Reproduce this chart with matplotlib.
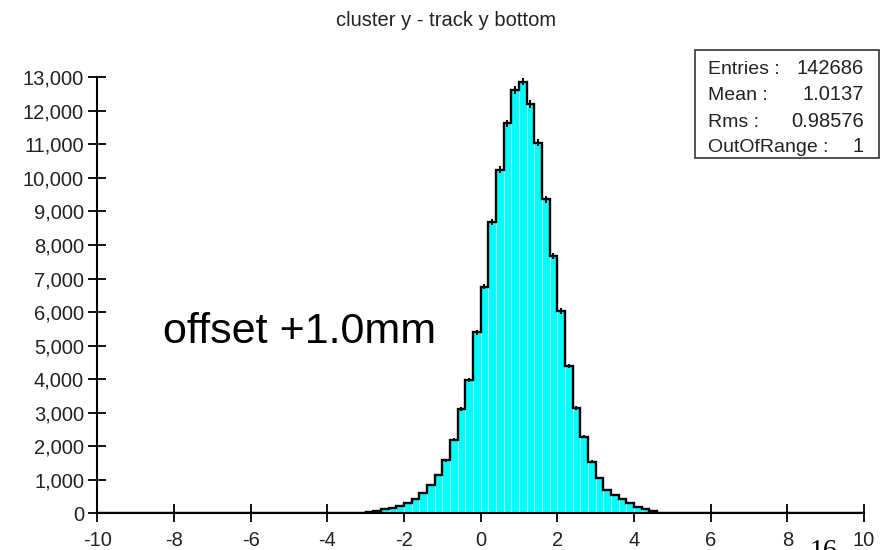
import numpy as np
import matplotlib
matplotlib.use("Agg")
import matplotlib.pyplot as plt
from matplotlib.patches import Rectangle
from matplotlib.ticker import FuncFormatter

# ---------------- data ----------------
title = "cluster y - track y bottom"
x_min, x_max, n_bins = -10.0, 10.0, 100
counts = [
    0, 0, 0, 0, 1, 0, 0, 0, 0, 0,            # -10.0 .. -8.2
    0, 0, 0, 0, 0, 0, 0, 0, 0, 1,            # -8.0 .. -6.2
    1, 0, 0, 1, 1, 0, 1, 0, 1, 0,            # -6.0 .. -4.2
    1, 2, 4, 8, 20, 40, 75, 120, 170, 230,   # -4.0 .. -2.2
    320, 440, 610, 850, 1150, 1580, 2200, 3100, 3970, 5400,      # -2.0 .. -0.2
    6760, 8690, 10240, 11630, 12620, 12870, 12210, 11050, 9360, 7670,  # 0.0 .. 1.8
    6030, 4400, 3140, 2280, 1540, 1050, 700, 560, 420, 310,      # 2.0 .. 3.8
    200, 130, 80, 15, 5, 3, 2, 1, 2, 1,      # 4.0 .. 5.8
    1, 2, 1, 0, 1, 2, 1, 1, 2, 0,            # 6.0 .. 7.8
    1, 0, 2, 1, 0, 1, 1, 2, 1, 0,            # 8.0 .. 9.8
]
x_ticks = [-10, -8, -6, -4, -2, 0, 2, 4, 6, 8, 10]
y_ticks = [0, 1000, 2000, 3000, 4000, 5000, 6000, 7000, 8000, 9000,
           10000, 11000, 12000, 13000]
stats_labels = ["Entries :", "Mean :", "Rms :", "OutOfRange :"]
stats_values = ["142686", "1.0137", "0.98576", "1"]
annotation = "offset +1.0mm"
page_number = "16"

# ---------------- plot ----------------
W, H = 889, 550
FONT = ["Liberation Sans", "DejaVu Sans"]
counts_arr = np.array(counts, dtype=float)
edges = np.linspace(x_min, x_max, n_bins + 1)
centers = 0.5 * (edges[:-1] + edges[1:])

fig = plt.figure(figsize=(W / 100, H / 100), dpi=100)
ax_l, ax_r, ax_b, ax_t = 97.3, 864.0, 513.3, 77.3
ax = fig.add_axes([ax_l / W, 1 - ax_b / H, (ax_r - ax_l) / W, (ax_b - ax_t) / H])

ax.bar(edges[:-1], counts_arr, width=np.diff(edges), align="edge",
       color="#00FFFF", edgecolor="#A6FFFF", linewidth=0.7, zorder=2)
ax.stairs(counts_arr, edges, color="black", linewidth=1.7, zorder=3)
mask = counts_arr > 0
ax.errorbar(centers[mask], counts_arr[mask], yerr=np.sqrt(counts_arr[mask]),
            fmt="none", ecolor="black", elinewidth=1.4, capsize=0, zorder=4)

ax.set_xlim(x_min, x_max)
ax.set_ylim(0, 13000)
ax.set_xticks(x_ticks)
ax.set_yticks(y_ticks)
ax.yaxis.set_major_formatter(FuncFormatter(lambda v, p: f"{int(v):,}"))
ax.xaxis.set_major_formatter(FuncFormatter(lambda v, p: f"{int(v)}"))

for s in ["top", "right"]:
    ax.spines[s].set_visible(False)
for s in ["left", "bottom"]:
    ax.spines[s].set_linewidth(1.5)
    ax.spines[s].set_color("black")
    ax.spines[s].set_zorder(5)

ax.tick_params(axis="both", direction="inout", length=13, width=1.3,
               color="black", labelcolor="#222222", labelsize=14.5)
ax.tick_params(axis="x", pad=6)
ax.tick_params(axis="y", pad=3)
for lab in ax.get_xticklabels() + ax.get_yticklabels():
    lab.set_fontfamily(FONT)

# title
fig.text(446 / W, 1 - 20 / H, title, ha="center", va="center",
         fontsize=14.5, color="#222222", family=FONT)

# annotation text
ax.text(-8.29, 5080, annotation, ha="left", va="baseline", fontsize=31,
        color="black", family=FONT, zorder=6)

# stats box
bx0, by0, bx1, by1 = 695, 50, 879, 158
fig.add_artist(Rectangle((bx0 / W, 1 - by1 / H), (bx1 - bx0) / W, (by1 - by0) / H,
                         transform=fig.transFigure, facecolor="white",
                         edgecolor="#333333", linewidth=1.2))
line_base = [74, 100, 127, 152]
for lab, val, yy in zip(stats_labels, stats_values, line_base):
    fig.text(708 / W, 1 - yy / H, lab, ha="left", va="baseline", fontsize=14,
             color="#222222", family=FONT)
    fig.text(864 / W, 1 - yy / H, val, ha="right", va="baseline", fontsize=14.5,
             color="#222222", family=FONT)

# page number (partially cut at bottom, as in the reference)
fig.text(810 / W, 1 - 539 / H, page_number, ha="left", va="top", fontsize=20,
         color="black", family=["Liberation Serif", "DejaVu Serif"])

fig.savefig("out.png", dpi=100)
